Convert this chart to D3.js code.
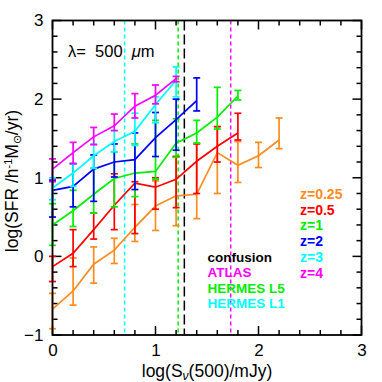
<!DOCTYPE html>
<html>
<head>
<meta charset="utf-8">
<script src="https://cdn.jsdelivr.net/npm/d3@7"></script>
<style>
  body { margin: 0; background: #fff; }
  text { font-family: "Liberation Sans", Arial, sans-serif; white-space: pre; }
</style>
</head>
<body>
<div id="chart"></div>
<script>
// log S(500) bins
var xBins = [0, 0.2, 0.4, 0.6, 0.8, 1.0, 1.2, 1.4, 1.6, 1.8, 2.0, 2.2]

// log SFR per redshift, with lower / upper error ends
var z025 = [-0.67, -0.44, -0.10, 0.08, 0.37, 0.64, 0.77, 0.79, 1.32, 1.16, 1.28, 1.48]
var z025Lo = [-0.92, -0.62, -0.34, -0.09, 0.19, 0.33, 0.39, 0.48, 0.80, 0.94, 1.13, 1.37]
var z025Hi = [-0.47, -0.02, 0.12, 0.23, 0.66, 0.96, 1.27, 1.44, 1.65, 1.46, 1.45, 1.76]

var z05 = [-0.13, 0.04, 0.34, 0.65, 0.93, 0.88, 0.98, 1.21, 1.40, 1.57]
var z05Lo = [-0.32, -0.13, 0.22, 0.34, 0.29, 0.60, 0.62, 0.80, 1.20, 1.48]
var z05Hi = [0.0, 0.34, 0.55, 1.05, 0.95, 1.00, 1.27, 1.43, 1.65, 1.82]

var z1 = [0.40, 0.58, 0.79, 0.99, 1.06, 1.08, 1.44, 1.57, 1.77, 2.04]
var z1Lo = [0.14, 0.38, 0.55, 0.63, 0.76, 0.98, 1.26, 1.44, 1.62, 1.99]
var z1Hi = [0.67, 0.84, 1.12, 1.33, 1.43, 1.73, 1.75, 1.73, 2.15, 2.11]

var z2 = [0.84, 0.89, 1.11, 1.20, 1.23, 1.51, 1.74, 1.98]
var z2Lo = [0.50, 0.63, 0.70, 1.01, 0.85, 1.27, 1.35, 1.85]
var z2Hi = [0.97, 1.18, 1.29, 1.43, 1.57, 1.83, 2.00, 2.27]

var z3 = [0.87, 1.06, 1.28, 1.46, 1.59, 1.93, 2.24]
var z3Lo = [0.72, 0.89, 1.12, 1.33, 1.41, 1.70, 2.03]
var z3Hi = [1.00, 1.18, 1.43, 1.60, 1.82, 2.03, 2.41]

var z4 = [1.11, 1.32, 1.52, 1.66, 1.91, 2.05, 2.26]
var z4Lo = [0.95, 1.18, 1.42, 1.60, 1.76, 1.94, 2.22]
var z4Hi = [1.24, 1.45, 1.64, 1.81, 2.07, 2.18, 2.29]

var zLabels = ['z=0.25', 'z=0.5', 'z=1', 'z=2', 'z=3', 'z=4']
var zColors = ['#ff8c1e', '#ff0000', '#00ee00', '#0000ff', '#00ffff', '#ff00ff']

// flux limits (vertical dashed lines)
var limNames = ['confusion', 'ATLAS', 'HERMES L5', 'HERMES L1']
var limX = [1.28, 1.73, 1.22, 0.70]
var limColors = ['#000000', '#ff00ff', '#00ee00', '#00ffff']
var limDash = ['10,4', '4,3', '4,3', '4,3']

var xTicks = [0, 1, 2, 3]
var yTicks = [-1, 0, 1, 2, 3]

var W = 382, H = 382
var m = { l: 52.5, r: 20.5, t: 20.5, b: 47 }

var svg = d3.select('#chart').append('svg')
    .attr('width', W).attr('height', H)

var x = d3.scaleLinear().domain([0, 3]).range([m.l, W - m.r])
var y = d3.scaleLinear().domain([-1, 3]).range([H - m.b, m.t])

// ticks on all four sides, pointing inward
var minorX = d3.range(0, 3.001, 0.2)
var minorY = d3.range(-1, 3.001, 0.2)
function isMajor(v) { return Math.abs(v - Math.round(v)) < 1e-6 }

var tk = svg.append('g').attr('stroke', '#000').attr('stroke-width', 1.5)
minorX.forEach(v => {
    var len = isMajor(v) ? 9 : 5
    tk.append('line').attr('x1', x(v)).attr('x2', x(v)).attr('y1', y(-1)).attr('y2', y(-1) - len)
    tk.append('line').attr('x1', x(v)).attr('x2', x(v)).attr('y1', y(3)).attr('y2', y(3) + len)
})
minorY.forEach(v => {
    var len = isMajor(v) ? 9 : 5
    tk.append('line').attr('y1', y(v)).attr('y2', y(v)).attr('x1', x(0)).attr('x2', x(0) + len)
    tk.append('line').attr('y1', y(v)).attr('y2', y(v)).attr('x1', x(3)).attr('x2', x(3) - len)
})

// tick labels through d3 axes (lines hidden)
var xAx = svg.append('g').attr('transform', 'translate(0,' + y(-1) + ')')
    .call(d3.axisBottom(x).tickValues(xTicks).tickSize(0).tickPadding(9).tickFormat(d3.format('d')))
var yAx = svg.append('g').attr('transform', 'translate(' + x(0) + ',0)')
    .call(d3.axisLeft(y).tickValues(yTicks).tickSize(0).tickPadding(9).tickFormat(d => d < 0 ? '\u2212' + Math.abs(d) : d))
;[xAx, yAx].forEach(a => {
    a.select('.domain').remove()
    a.selectAll('text').attr('font-size', 17).attr('fill', '#000')
        .style('font-family', '"Liberation Sans", Arial, sans-serif')
})

// vertical limit lines
limX.forEach((v, i) => {
    svg.append('line')
        .attr('x1', x(v)).attr('x2', x(v)).attr('y1', y(3)).attr('y2', y(-1))
        .attr('stroke', limColors[i]).attr('stroke-width', 1.5)
        .attr('stroke-dasharray', limDash[i])
})

// series with error bars
var series = [
    [z025, z025Lo, z025Hi],
    [z05, z05Lo, z05Hi],
    [z1, z1Lo, z1Hi],
    [z2, z2Lo, z2Hi],
    [z3, z3Lo, z3Hi],
    [z4, z4Lo, z4Hi]
]
var line = d3.line().x(d => x(d[0])).y(d => y(d[1]))

series.forEach((s, k) => {
    var col = zColors[k]
    var pts = s[0].map((v, i) => [xBins[i], v, s[1][i], s[2][i]])
    var g = svg.append('g').attr('stroke', col).attr('stroke-width', 1.7).attr('fill', 'none')
    g.append('path').attr('d', line(pts))
    pts.forEach(p => {
        var px = x(p[0])
        g.append('line').attr('x1', px).attr('x2', px).attr('y1', y(p[2])).attr('y2', y(p[3]))
        g.append('line').attr('x1', px - 3.5).attr('x2', px + 3.5).attr('y1', y(p[2])).attr('y2', y(p[2]))
        g.append('line').attr('x1', px - 3.5).attr('x2', px + 3.5).attr('y1', y(p[3])).attr('y2', y(p[3]))
    })
})

// frame
svg.append('rect')
    .attr('x', x(0)).attr('y', y(3)).attr('width', x(3) - x(0)).attr('height', y(-1) - y(3))
    .attr('fill', 'none').attr('stroke', '#000').attr('stroke-width', 1.8)

// wavelength label
var lam = svg.append('text').attr('x', 68).attr('y', 57).attr('font-size', 16.5).attr('fill', '#000')
lam.append('tspan').text('\u03bb=  500  ')
lam.append('tspan').attr('font-style', 'italic').text('\u03bc')
lam.append('tspan').text('m')

// redshift legend
zLabels.forEach((t, i) => {
    svg.append('text').attr('x', 300).attr('y', 199 + i * 15.7)
        .attr('font-size', 14).attr('font-weight', 'bold').attr('fill', zColors[i]).text(t)
})
// limit legend
limNames.forEach((t, i) => {
    svg.append('text').attr('x', 207.5).attr('y', 262 + i * 15.3)
        .attr('font-size', 13.5).attr('font-weight', 'bold').attr('fill', limColors[i]).text(t)
})

// axis titles
var xt = svg.append('text').attr('x', 207).attr('y', 377).attr('text-anchor', 'middle')
    .attr('font-size', 17.5).attr('fill', '#000')
xt.append('tspan').text('log(S')
xt.append('tspan').attr('font-size', 12).attr('dy', 3).attr('font-style', 'italic').text('\u03bd')
xt.append('tspan').attr('dy', -3).text('(500)/mJy)')

var yt = svg.append('text').attr('transform', 'translate(18,181) rotate(-90)').attr('text-anchor', 'middle')
    .attr('font-size', 17.5).attr('fill', '#000')
yt.append('tspan').text('log(SFR /h')
yt.append('tspan').attr('font-size', 11).attr('dy', -6).text('-1')
yt.append('tspan').attr('dy', 6).text('M')
yt.append('tspan').attr('font-size', 11).attr('dy', 3).text('\u2299')
yt.append('tspan').attr('dy', -3).text('/yr)')
</script>
</body>
</html>
